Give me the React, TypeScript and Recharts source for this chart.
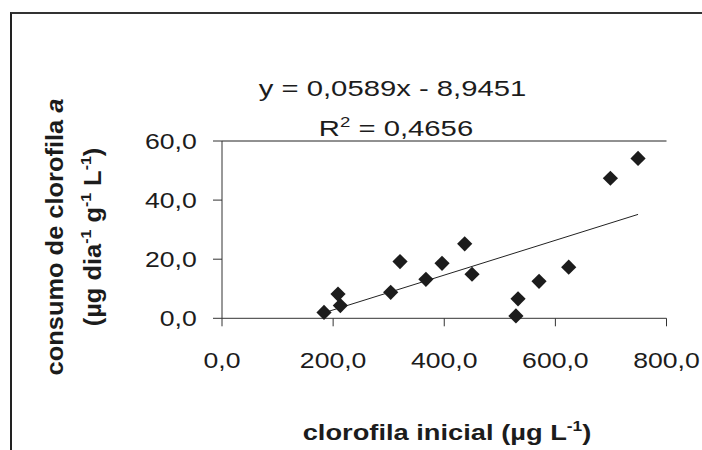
import React from 'react';
import { ScatterChart, Scatter, XAxis, YAxis, ReferenceLine, Customized } from 'recharts';

const xValues = [183.6, 208.8, 213, 303.6, 320.4, 367, 396, 436.8, 450, 529, 532.8, 570.6, 624, 699, 748.8];
const yValues = [2.0, 8.2, 4.3, 8.8, 19.2, 13.2, 18.6, 25.2, 14.9, 0.8, 6.6, 12.5, 17.3, 47.4, 54.1];
const xTicks = [0, 200, 400, 600, 800];
const yTicks = [0, 20, 40, 60];
const slope = 0.0589;
const intercept = -8.9451;
const equationText = 'y = 0,0589x - 8,9451';
const r2Value = '0,4656';

const points = xValues.map((x, i) => ({ x, y: yValues[i] }));
const xMin = Math.min(...xValues);
const xMax = Math.max(...xValues);
const trend = [
  { x: xMin, y: slope * xMin + intercept },
  { x: xMax, y: slope * xMax + intercept },
];

const FONT = '"Liberation Sans", Arial, sans-serif';
const INK = '#1c1c1c';
const fmt = (v: number) => v.toFixed(1).replace('.', ',');

const XTick = (props: any) => {
  const { x, y, payload } = props;
  return (
    <g transform={`translate(${x},${y + 40}) scale(1.21,1)`}>
      <text x={0} y={0} textAnchor="middle" fontFamily={FONT} fontSize={22} fill={INK}>
        {fmt(payload.value)}
      </text>
    </g>
  );
};

const YTick = (props: any) => {
  const { x, y, payload } = props;
  return (
    <g transform={`translate(${x - 14.3},${y + 8}) scale(1.21,1)`}>
      <text x={0} y={0} textAnchor="end" fontFamily={FONT} fontSize={22} fill={INK}>
        {fmt(payload.value)}
      </text>
    </g>
  );
};

const Diamond = (props: any) => {
  const { cx, cy } = props;
  const r = 7.6;
  return <path d={`M${cx},${cy - r}L${cx + r},${cy}L${cx},${cy + r}L${cx - r},${cy}Z`} fill={INK} />;
};

const NoShape = () => <g />;

const Texts = () => (
  <g>
    <g transform="translate(392.5,96) scale(1.33,1)">
      <text x={0} y={0} textAnchor="middle" fontFamily={FONT} fontSize={22} fill={INK}>{equationText}</text>
    </g>
    <g transform="translate(396,136) scale(1.33,1)">
      <text x={0} y={0} textAnchor="middle" fontFamily={FONT} fontSize={22} fill={INK}>
        R<tspan fontSize={14} dy={-9}>2</tspan><tspan dy={9}> = {r2Value}</tspan>
      </text>
    </g>
    <g transform="translate(447,440) scale(1.24,1)">
      <text x={0} y={0} textAnchor="middle" fontFamily={FONT} fontSize={22} fontWeight="bold" fill={INK}>
        clorofila inicial (µg L<tspan fontSize={14} dy={-9}>-1</tspan><tspan dy={9}>)</tspan>
      </text>
    </g>
    <g transform="translate(63,237) rotate(-90) scale(1.06,1)">
      <text x={0} y={0} textAnchor="middle" fontFamily={FONT} fontSize={24} fontWeight="bold" fill={INK}>
        consumo de clorofila <tspan fontStyle="italic">a</tspan>
      </text>
    </g>
    <g transform="translate(101,237) rotate(-90) scale(1.06,1)">
      <text x={0} y={0} textAnchor="middle" fontFamily={FONT} fontSize={24} fontWeight="bold" fill={INK}>
        (µg dia<tspan fontSize={15} dy={-10}>-1</tspan><tspan dy={10}> g</tspan><tspan fontSize={15} dy={-10}>-1</tspan><tspan dy={10}> L</tspan><tspan fontSize={15} dy={-10}>-1</tspan><tspan dy={10}>)</tspan>
      </text>
    </g>
  </g>
);

export default function App() {
  return (
    <div style={{ position: 'absolute', left: 0, top: 0, width: 702, height: 450, background: '#fff' }}>
      <div
        style={{
          position: 'absolute',
          left: 10,
          top: 12,
          width: 700,
          height: 450,
          borderLeft: '2px solid #222',
          borderTop: '2px solid #333',
          boxSizing: 'border-box',
        }}
      />
      <div style={{ position: 'absolute', left: 0, top: 0 }}>
        <ScatterChart width={702} height={450} margin={{ top: 141, right: 35.5, bottom: 71.7, left: 122 }}>
          <XAxis
            type="number"
            dataKey="x"
            domain={[0, 800]}
            ticks={xTicks}
            interval={0}
            tickSize={8}
            height={60}
            axisLine={{ stroke: '#333', strokeWidth: 1 }}
            tickLine={{ stroke: '#333', strokeWidth: 1 }}
            tick={<XTick />}
          />
          <YAxis
            type="number"
            dataKey="y"
            domain={[0, 60]}
            ticks={yTicks}
            interval={0}
            tickSize={9}
            width={100}
            axisLine={{ stroke: '#333', strokeWidth: 1 }}
            tickLine={{ stroke: '#333', strokeWidth: 1 }}
            tick={<YTick />}
          />
          <ReferenceLine y={60} stroke="#222" strokeWidth={1} ifOverflow="extendDomain" />
          <Scatter data={trend} line={{ stroke: '#222', strokeWidth: 1 }} shape={<NoShape />} isAnimationActive={false} />
          <Scatter data={points} shape={<Diamond />} isAnimationActive={false} />
          <Customized component={Texts} />
        </ScatterChart>
      </div>
    </div>
  );
}
